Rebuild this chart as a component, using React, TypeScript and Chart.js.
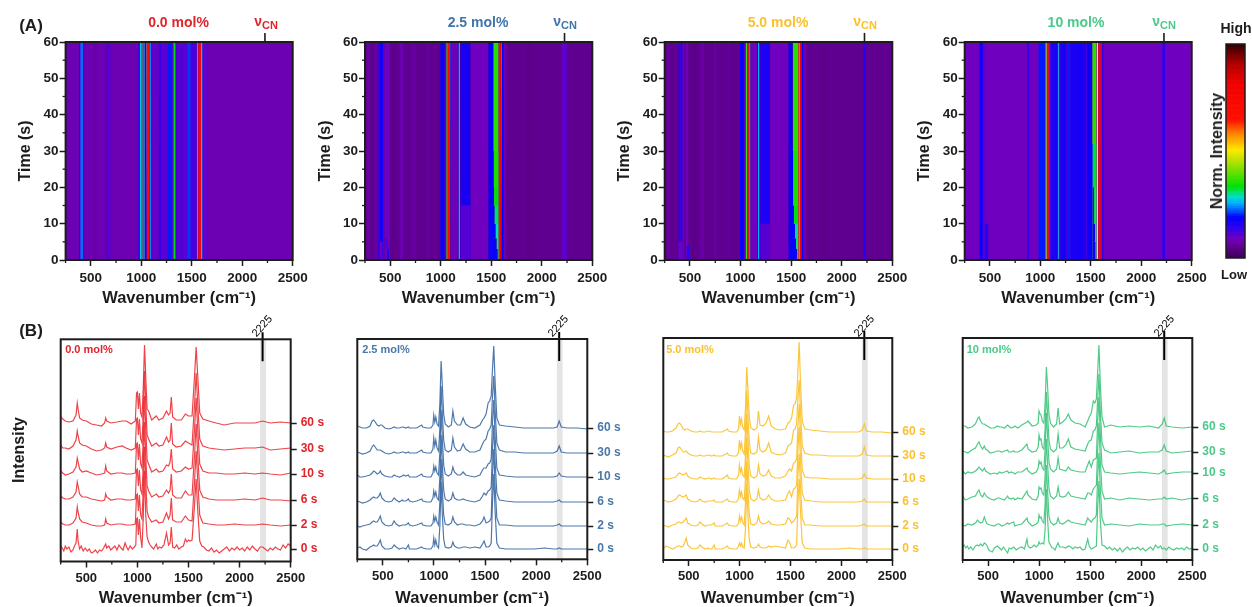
import React, { useEffect, useRef } from "react";
import { Chart, registerables } from "chart.js";

Chart.register(...registerables);

const FONT = '"Liberation Sans", Arial, sans-serif';
const INK = "#1c1c1c";
const TIMES = ["0 s", "2 s", "6 s", "10 s", "30 s", "60 s"];
const WN_MIN = 250;
const WN_MAX = 2500;
const CN_MARK = 2225;

const wnRed = [
  250,270,295,330,370,400,412,420,435,460,
  500,550,600,650,680,690,700,740,800,850,
  890,940,980,992,1000,1010,1020,1032,1045,1058,
  1070,1082,1095,1110,1140,1185,1210,1250,1285,1305,
  1320,1332,1345,1380,1430,1470,1500,1535,1560,1575,
  1590,1610,1640,1700,1770,1850,1950,2050,2150,2225,
  2300,2400,2500,
];
const wnRedNoisy = [
  250,265,280,295,310,330,350,370,385,400,
  412,420,435,450,470,490,510,530,550,570,
  590,610,630,650,670,680,690,700,720,740,
  760,780,800,820,840,860,880,895,910,930,
  950,970,985,992,1000,1010,1020,1032,1045,1058,
  1070,1082,1095,1110,1125,1140,1160,1185,1200,1215,
  1235,1260,1285,1305,1320,1332,1345,1365,1385,1405,
  1430,1450,1470,1485,1500,1515,1535,1560,1575,1590,
  1610,1630,1650,1675,1700,1725,1750,1775,1800,1825,
  1850,1875,1900,1925,1950,1975,2000,2025,2050,2075,
  2100,2125,2150,2175,2200,2225,2250,2275,2300,2325,
  2350,2375,2400,2425,2450,2475,2500,
];
const wnDoped = [
  250,275,300,340,375,395,410,425,445,462,
  475,490,520,560,590,610,630,660,690,700,
  725,750,760,790,830,880,890,930,970,990,
  998,1008,1018,1030,1045,1058,1070,1082,1095,1110,
  1140,1170,1185,1200,1230,1260,1285,1310,1350,1400,
  1450,1475,1490,1510,1530,1545,1560,1572,1585,1598,
  1615,1640,1700,1790,1880,1980,2080,2170,2205,2225,
  2245,2300,2400,2500,
];
const wnGreenNoisy = [
  250,265,280,295,310,330,350,375,395,410,
  425,445,462,475,490,505,520,540,560,590,
  610,630,650,670,690,705,725,750,775,800,
  830,855,880,890,910,930,950,970,990,998,
  1008,1018,1030,1045,1058,1070,1082,1095,1110,1125,
  1140,1155,1170,1185,1200,1230,1260,1285,1310,1330,
  1350,1375,1400,1425,1450,1475,1490,1510,1530,1545,
  1560,1572,1585,1598,1615,1640,1665,1690,1715,1740,
  1765,1790,1815,1840,1865,1890,1915,1940,1965,1990,
  2015,2040,2065,2090,2115,2140,2165,2190,2205,2225,
  2245,2270,2295,2320,2345,2370,2395,2420,2445,2470,
  2500,
];

const offsets00 = [0, 24, 49, 75, 100, 126];
const grids00 = [wnRedNoisy, wnRed, wnRed, wnRed, wnRed, wnRed];
const spectra00 = [
  [3,1,-2,3,0,2,-3,-1,3,6,20,8,0,3,-2,1,-2,0,-4,-3,-1,-4,-1,-2,1,3,5,1,3,-1,1,3,-1,4,1,-1,6,2,-1,3,0,2,4,30,31,14,30,12,1,32,78,34,12,7,4,2,0,5,0,2,1,4,16,4,6,22,2,1,4,0,2,3,10,7,9,8,9,45,70,40,8,3,2,-1,-2,1,-3,-1,-4,-2,0,2,-2,1,-1,2,-1,1,-2,2,-1,3,0,-2,2,2,0,-2,1,-1,2,0,-1,4,1,5,3],
  [3,1,0,0,2,7,18,13,6,3,2,0,-1,-1,0,6,2,0,1,1,0,0,1,30,31,14,30,10,6,36,78,44,14,8,3,5,2,3,12,6,10,27,5,3,3,9,5,4,45,74,45,10,2,1,0,0,1,0,0,1,0,-1,0],
  [4,2,1,1,3,8,18,14,6,3,3,1,0,-1,0,6,3,0,1,1,0,0,1,30,31,14,30,10,6,36,78,44,14,9,3,6,3,4,10,7,10,26,5,2,2,9,5,5,46,76,46,10,3,1,0,0,0,1,0,2,0,0,-1],
  [3,1,-1,0,2,7,16,12,5,2,3,1,-1,0,1,8,3,0,1,1,0,0,1,30,31,14,30,10,6,36,78,46,14,10,2,5,2,3,9,8,12,25,5,2,3,7,5,6,46,76,46,10,3,1,1,0,0,1,0,1,0,-1,1],
  [4,1,1,0,3,9,18,13,6,4,3,0,-2,-1,1,6,2,0,2,3,1,-1,1,30,31,14,30,10,6,36,78,46,14,10,3,6,3,4,12,7,9,26,5,2,3,8,6,4,46,76,46,10,3,1,0,-1,0,1,1,2,-1,0,1],
  [6,4,2,1,2,8,20,14,5,3,2,-1,-2,-3,0,5,2,0,1,2,2,-1,2,30,31,14,30,10,6,36,78,46,14,12,3,7,3,5,12,8,10,26,6,3,3,9,7,7,48,76,48,10,4,2,0,-2,0,0,0,2,0,1,0],
];

const offsets25 = [0, 23, 47, 72, 96, 121];
const grids25 = [wnDoped, wnDoped, wnDoped, wnDoped, wnDoped, wnDoped];
const spectra25 = [
  [1,2,0,-1,2,3,4,3,3,6,9,3,0,0,1,4,2,0,1,1,0,4,0,0,0,2,1,0,0,3,11,4,9,3,1,24,67,34,10,2,1,2,7,3,1,1,2,2,1,2,1,5,8,2,2,3,6,46,75,38,6,1,0,0,0,0,1,0,0,1,0,0,0,0],
  [0,-1,0,1,2,4,5,4,4,7,10,4,1,0,1,5,2,0,1,1,1,3,1,0,1,3,1,0,0,3,10,5,9,4,1,24,67,36,11,2,1,3,9,4,1,2,2,1,1,0,2,5,9,3,4,5,8,50,77,40,8,1,1,0,0,0,0,0,1,2,0,0,0,0],
  [1,0,-1,0,2,4,5,4,4,6,9,4,1,0,1,4,2,0,2,1,1,3,1,0,1,3,1,0,0,4,11,6,10,4,2,25,67,37,12,3,1,3,9,4,2,2,3,2,1,0,2,6,9,7,11,12,15,52,77,41,9,2,1,0,0,0,0,0,1,2,0,0,0,0],
  [2,0,0,1,2,4,6,5,3,4,6,3,1,0,0,2,1,0,1,2,1,2,0,0,0,3,1,0,0,4,11,6,10,4,2,25,67,38,12,3,1,3,10,5,2,2,5,2,1,0,2,7,9,9,13,14,18,54,77,42,9,2,1,0,0,0,0,0,1,4,1,0,0,0],
  [1,0,-1,0,2,6,8,6,3,3,3,2,0,-1,0,1,0,0,1,1,0,1,0,0,0,3,1,0,0,4,15,7,13,5,2,25,67,40,13,3,1,3,15,6,2,3,9,4,1,1,3,9,12,14,22,24,28,56,77,44,10,3,1,1,0,0,0,0,2,7,1,0,0,0],
  [2,1,0,0,2,7,8,6,3,2,3,3,0,-1,0,1,0,0,1,1,0,1,0,0,0,3,1,0,0,3,13,6,11,4,2,25,67,42,14,4,1,3,17,7,3,3,10,4,1,0,3,8,10,14,25,27,32,58,82,46,10,3,2,1,0,0,0,0,1,7,1,0,0,-1],
];

const offsets50 = [0, 23, 47, 70, 93, 117];
const grids50 = grids25;
const spectra50 = [
  [0,3,2,0,2,3,3,2,3,7,11,4,1,0,1,4,2,0,1,0,0,4,0,0,0,3,1,0,0,3,6,3,6,2,1,22,65,32,9,2,1,2,5,2,1,1,3,2,3,2,1,9,7,1,1,2,4,44,70,38,6,1,0,0,0,0,1,0,0,1,0,0,0,0],
  [1,0,-1,1,2,4,4,3,4,6,8,3,1,0,1,4,2,0,1,1,1,3,0,0,0,3,1,0,0,3,10,5,9,4,1,24,65,35,11,2,1,3,10,4,2,3,5,2,1,1,2,8,7,3,5,7,10,48,72,40,8,1,1,0,0,0,0,0,1,2,0,0,0,0],
  [2,1,0,1,3,6,7,6,5,6,7,3,1,0,1,3,1,0,1,1,1,2,0,0,0,3,1,0,0,4,12,6,10,4,2,24,65,37,12,3,1,3,12,4,2,3,7,3,1,1,2,9,11,5,13,14,17,50,75,42,9,2,1,0,0,0,0,0,1,3,0,0,0,0],
  [1,0,0,1,2,5,6,5,4,5,6,3,1,0,0,2,1,0,1,1,0,1,0,0,0,4,1,0,0,4,14,7,11,4,2,24,65,38,12,3,1,3,14,5,3,4,9,3,1,1,3,8,10,8,16,17,20,52,75,44,9,2,1,1,0,0,0,0,1,5,1,0,0,0],
  [1,0,-1,1,3,8,9,7,4,4,5,3,1,0,0,1,0,0,1,1,0,1,0,0,0,3,1,0,0,4,16,8,13,5,2,25,65,40,13,3,2,4,19,6,4,6,13,4,2,1,3,10,11,13,26,27,32,56,76,46,10,3,1,1,0,0,0,0,2,9,1,0,0,0],
  [1,0,0,1,4,8,9,7,3,2,3,3,1,0,0,1,0,0,1,1,0,0,0,0,0,3,1,0,0,3,16,8,13,5,2,25,65,42,14,4,2,4,21,7,6,9,16,6,3,2,3,9,10,14,27,28,34,60,90,50,11,3,2,1,0,0,0,0,2,8,1,0,0,-1],
];

const offsets10 = [0, 24, 50, 76, 97, 122];
const grids10 = [wnGreenNoisy, wnDoped, wnDoped, wnDoped, wnDoped, wnDoped];
const spectra10 = [
  [2,4,1,3,0,2,-1,3,4,3,5,3,6,5,3,-1,-2,-3,1,3,1,-1,2,-1,-4,1,0,2,-1,1,2,0,10,3,1,2,4,2,4,7,5,5,6,5,20,60,30,7,4,1,1,-1,3,6,2,2,1,3,2,0,2,1,2,-1,0,10,3,0,1,2,3,40,68,30,4,3,0,2,-1,1,-2,1,-3,0,2,-1,1,0,2,-1,1,-2,0,2,-1,4,1,3,0,1,-1,2,0,-1,1,0,1,-1,2,0,1],
  [0,-1,1,0,2,5,3,2,3,8,4,1,0,-1,1,1,-1,0,2,1,2,3,-1,0,1,7,3,-1,1,3,10,7,8,4,2,22,60,34,9,3,0,2,7,2,1,3,5,3,2,1,0,7,5,3,6,7,10,46,72,38,7,0,1,0,-1,1,0,0,1,1,-1,0,1,0],
  [3,-1,0,2,3,7,9,4,2,6,4,2,0,-1,1,1,0,-1,3,1,0,1,-1,1,0,8,4,0,-1,3,12,10,11,6,4,24,60,35,11,3,0,3,12,3,2,3,7,3,2,1,0,6,6,4,10,12,14,48,76,40,8,0,1,-1,1,0,-1,0,0,2,0,1,-1,1],
  [2,-1,1,0,2,4,6,4,2,5,2,1,-1,0,-1,1,0,1,2,0,1,0,-1,1,1,5,2,-1,1,5,12,9,11,5,3,24,60,36,11,4,1,4,15,4,3,2,6,3,2,1,1,8,12,6,13,14,15,50,76,40,8,1,0,-1,0,1,0,-1,1,3,-1,0,1,1],
  [1,0,-1,2,4,8,10,6,3,6,3,2,-1,0,1,1,0,1,2,0,0,1,0,0,2,8,3,0,1,5,17,12,13,5,3,24,60,38,12,3,0,3,18,4,4,7,13,5,3,2,1,8,11,12,21,22,26,52,78,42,9,2,-1,0,1,-1,0,0,2,7,1,-1,0,1],
  [1,1,-1,0,3,8,10,6,3,3,2,1,-1,-1,1,0,0,-1,2,1,-1,0,1,-1,2,5,6,1,2,4,16,13,12,6,4,24,60,40,13,4,0,3,19,3,5,8,13,7,4,3,0,6,10,14,26,24,28,54,82,44,10,0,2,0,1,0,1,-1,3,9,1,0,-1,0],
];

// [from wavenumber, to wavenumber, normalised intensity]
const heatBands00 = [
  [520,560,.07],[640,660,.07],[385,395,.17],[395,425,.23],[425,435,.14],[655,695,.115],
  [970,985,.15],[985,1000,.27],[1000,1012,.38],[1012,1022,.3],[1022,1034,.27],[1034,1050,.17],
  [1050,1056,.5],[1056,1082,.7],[1082,1086,.4],[1086,1098,.24],[1098,1108,.14],
  [1108,1170,.1],[1170,1200,.13],[1200,1265,.11],[1265,1296,.2],[1296,1312,.12],
  [1312,1320,.25],[1320,1340,.33],[1340,1350,.17],[1350,1455,.11],[1455,1490,.21],[1490,1550,.12],
  [1550,1558,.3],[1556,1564,.5],[1564,1594,.74],[1594,1604,.5],[1604,1614,.22],[1614,1650,.1],
];
const heatBands25 = [
  [270,300,.07],[335,380,.062],[380,395,.14],[395,430,.17],[430,445,.1],[445,497,.09],[520,560,.048],[590,630,.08],[700,760,.065],[860,890,.065],
  [985,995,.14],[995,1040,.18],[1040,1050,.2],[1050,1058,.36],[1058,1068,.48],[1068,1086,.7],[1086,1092,.4],[1092,1100,.22],[1100,1172,.085],
  [1168,1176,.17],[1176,1190,.27],[1190,1196,.17],[1196,1296,.165],[1296,1470,.09],[1470,1520,.18],
  [1520,1572,.36],[1572,1582,.55],[1582,1600,.8],[1600,1606,.5],[1606,1622,.19],[1622,1650,.08],
  [1850,1900,.048],[2195,2248,.105],
];
const heatBands50 = [
  [270,300,.065],[385,428,.14],[428,445,.08],[460,480,.09],[520,570,.048],[600,640,.07],[740,760,.07],[870,890,.065],
  [985,995,.14],[995,1035,.18],[1035,1050,.12],[1050,1066,.38],[1066,1082,.64],[1082,1090,.45],[1090,1098,.28],[1098,1167,.09],
  [1163,1172,.16],[1172,1186,.26],[1186,1194,.16],[1194,1292,.16],[1292,1472,.09],[1472,1516,.18],
  [1516,1570,.36],[1570,1588,.6],[1588,1606,.76],[1606,1620,.18],[1620,1650,.08],
  [1800,1860,.05],[2212,2238,.15],
];
const heatBands10 = [
  [395,430,.18],[430,450,.11],[868,892,.14],[980,1045,.2],[1045,1052,.25],
  [1052,1064,.46],[1064,1070,.55],[1070,1084,.66],[1084,1090,.4],[1090,1098,.2],[1098,1170,.16],
  [1170,1176,.2],[1176,1188,.27],[1188,1196,.18],[1196,1260,.165],[1260,1295,.2],[1295,1458,.165],[1458,1514,.18],
  [1514,1557,.36],[1557,1573,.5],[1573,1600,.76],[1600,1606,.3],[1606,1628,.14],
  [2208,2235,.155],
];

// [from time, to time, from wavenumber, to wavenumber, normalised intensity]
const heatCells25 = [
  [-2,3,1480,1565,.18],[-2,3,1565,1572,.3],[3,6,1480,1555,.18],[3,6,1555,1572,.28],[6,10,1490,1545,.18],[6,10,1545,1572,.29],
  [10,15,1490,1535,.18],[10,15,1535,1572,.31],[15,20,1490,1530,.18],[15,20,1530,1572,.33],[20,30,1490,1525,.18],[20,30,1525,1572,.35],
  [-2,3,465,490,.16],[3,6,450,480,.12],[-2,5,395,425,.09],[-2,15,1196,1296,.11],
];
const heatCells50 = [
  [-2,3,1480,1562,.18],[-2,3,1562,1570,.28],[3,6,1480,1550,.18],[3,6,1550,1570,.29],[6,10,1490,1538,.18],[6,10,1538,1570,.3],
  [10,15,1490,1528,.18],[10,15,1528,1570,.33],[15,30,1490,1522,.18],[15,30,1522,1570,.35],
  [-2,4,465,490,.16],[-2,5,385,428,.09],[-2,10,1194,1292,.11],
];
const heatCells10 = [
  [-2,5,1514,1548,.18],[-2,5,1548,1557,.27],[5,10,1514,1542,.18],[5,10,1542,1557,.28],[10,20,1514,1535,.2],[10,20,1535,1557,.3],
  [20,32,1514,1525,.21],[20,32,1525,1557,.32],[-2,10,450,485,.16],
];

const colormapStops: [number, number, number, number][] = [
  [0,60,0,88],[.054,96,0,144],[.09,112,0,192],[.13,60,0,232],[.19,0,0,255],[.257,0,180,255],[.288,0,224,192],
  [.334,0,224,0],[.443,168,224,0],[.505,255,232,0],[.583,255,128,0],[.645,255,16,0],[.817,240,0,0],[.91,176,0,0],[1,48,0,0],
];

function heatColor(level: number) {
  for (let i = 1; i < colormapStops.length; i++) {
    const a = colormapStops[i - 1];
    const b = colormapStops[i];
    if (level <= b[0]) {
      const f = (level - a[0]) / (b[0] - a[0]);
      return `rgb(${a[1] + (b[1] - a[1]) * f},${a[2] + (b[2] - a[2]) * f},${a[3] + (b[3] - a[3]) * f})`;
    }
  }
  return "rgb(48,0,0)";
}

function frame(width: number, minorX: number, minorY: number) {
  return {
    id: "frame",
    afterDatasetsDraw(chart: any) {
      const { ctx, chartArea: a, scales } = chart;
      ctx.save();
      ctx.strokeStyle = INK;
      ctx.lineWidth = width;
      ctx.strokeRect(a.left, a.top, a.right - a.left, a.bottom - a.top);
      ctx.lineWidth = 1.3;
      if (minorX && scales.x) {
        scales.x.ticks.forEach((t: any) => {
          if (t.value % 500 !== 0) {
            const p = scales.x.getPixelForValue(t.value);
            ctx.beginPath(); ctx.moveTo(p, a.bottom); ctx.lineTo(p, a.bottom + minorX); ctx.stroke();
          }
        });
      }
      if (minorY && scales.y) {
        scales.y.ticks.forEach((t: any) => {
          if (t.value % 10 !== 0) {
            const p = scales.y.getPixelForValue(t.value);
            ctx.beginPath(); ctx.moveTo(a.left, p); ctx.lineTo(a.left - minorY, p); ctx.stroke();
          }
        });
      }
      ctx.restore();
    },
  };
}

const tickFont = (size: number) => ({ family: FONT, size, weight: "bold" as const });

function xAxis(bottomRoom: number, size: number, pad: number) {
  return {
    type: "linear",
    min: WN_MIN,
    max: WN_MAX,
    border: { display: false },
    grid: {
      drawOnChartArea: false,
      tickLength: 6,
      tickWidth: 1.5,
      tickColor: (c: any) => (c.tick && c.tick.value % 500 === 0 ? INK : "transparent"),
    },
    ticks: {
      stepSize: 250,
      autoSkip: false,
      maxRotation: 0,
      padding: pad,
      color: INK,
      font: tickFont(size),
      callback: (v: number) => (v % 500 === 0 ? String(v) : ""),
    },
    title: {
      display: true,
      text: "Wavenumber (cm\u207B\u00B9)",
      color: INK,
      font: { family: FONT, size: 16.5, weight: "bold" },
      padding: { top: 0, bottom: 4 },
    },
    afterFit: (s: any) => { s.height = bottomRoom; },
  };
}

function rect(x0: number, x1: number, t0: number, t1: number, color: string) {
  return {
    data: [{ x: x0, y: t0 }, { x: x1, y: t0 }],
    fill: { value: t1 },
    backgroundColor: color,
    borderColor: "transparent",
    borderWidth: 0,
    pointRadius: 0,
  };
}

const HEAT_TOP = 42;
const HEAT_BOTTOM = 260;
const BLEED = 6;

function HeatPanel({ l, r, bands, cells, base }: any) {
  const heatRef = useRef<HTMLCanvasElement>(null);
  const axisRef = useRef<HTMLCanvasElement>(null);
  const left = Math.floor(l) - 57;
  const width = Math.ceil(r) + 24 - left;
  const height = 312;
  const hLeft = Math.floor(l) - BLEED;
  const hRight = Math.ceil(r) + BLEED;
  const hTop = HEAT_TOP - BLEED;
  const hBottom = HEAT_BOTTOM + BLEED;
  useEffect(() => {
    const px = (r - l) / (WN_MAX - WN_MIN);
    const py = (HEAT_BOTTOM - HEAT_TOP) / 60;
    const xMin = WN_MIN - (l - hLeft) / px;
    const xMax = WN_MAX + (hRight - r) / px;
    const yMin = -BLEED / py;
    const yMax = 60 + BLEED / py;
    const layers = [
      rect(xMin, xMax, yMin, yMax, heatColor(base)),
      ...bands.map((b: number[]) => rect(b[0], b[1], yMin, yMax, heatColor(b[2]))),
      ...cells.map((c: number[]) => rect(c[2], c[3], c[0], c[1], heatColor(c[4]))),
    ].reverse();
    const heat = new Chart(heatRef.current!, {
      type: "line",
      data: { datasets: layers as any },
      options: {
        responsive: false,
        animation: false,
        events: [],
        layout: { padding: 0 },
        plugins: { legend: { display: false }, tooltip: { enabled: false } },
        scales: {
          x: { type: "linear", min: xMin, max: xMax, display: false },
          y: { min: yMin, max: yMax, display: false },
        },
      } as any,
    });
    const axes = new Chart(axisRef.current!, {
      type: "line",
      data: {
        datasets: [
          {
            data: [{ x: CN_MARK, y: 60 }, { x: CN_MARK, y: 62.5 }],
            borderColor: INK, borderWidth: 1.6, pointRadius: 0, clip: false, fill: false,
          },
        ] as any,
      },
      options: {
        responsive: false,
        animation: false,
        events: [],
        layout: { padding: { top: HEAT_TOP, right: width - (r - left), left: 0, bottom: 0 } },
        plugins: { legend: { display: false }, tooltip: { enabled: false } },
        scales: {
          x: xAxis(height - HEAT_BOTTOM, 13.5, 4) as any,
          y: {
            min: 0,
            max: 60,
            border: { display: false },
            grid: {
              drawOnChartArea: false,
              tickLength: 6,
              tickWidth: 1.5,
              tickColor: (c: any) => (c.tick && c.tick.value % 10 === 0 ? INK : "transparent"),
            },
            ticks: {
              stepSize: 5,
              autoSkip: false,
              padding: 1,
              color: INK,
              font: tickFont(13.5),
              callback: (v: number) => (v % 10 === 0 ? String(v) : ""),
            },
            title: { display: true, text: "Time (s)", color: INK, font: { family: FONT, size: 16, weight: "bold" }, padding: { top: 8, bottom: 8 } },
            afterFit: (s: any) => { s.width = l - left; },
          } as any,
        },
      } as any,
      plugins: [frame(2, 3, 3) as any],
    });
    return () => { heat.destroy(); axes.destroy(); };
  }, []);
  return (
    <>
      <div style={{ position: "absolute", left: l, top: HEAT_TOP, width: r - l, height: HEAT_BOTTOM - HEAT_TOP, overflow: "hidden" }}>
        <canvas
          ref={heatRef}
          width={hRight - hLeft}
          height={hBottom - hTop}
          style={{ position: "absolute", left: hLeft - l, top: hTop - HEAT_TOP, width: hRight - hLeft, height: hBottom - hTop, filter: "blur(0.75px)" }}
        />
      </div>
      <canvas ref={axisRef} width={width} height={height} style={{ position: "absolute", left, top: 0, width, height }} />
    </>
  );
}

function LinePanel({ l, r, t, b, zeroAt, grids, spectra, offsets, lineColor, textColor }: any) {
  const ref = useRef<HTMLCanvasElement>(null);
  const top = 300;
  const left = Math.floor(l) - 10;
  const rightRoom = 48;
  const width = Math.ceil(r) + rightRoom - left;
  const height = 312;
  const yMax = zeroAt - t;
  const yMin = zeroAt - b;
  useEffect(() => {
    const lines = spectra.map((vals: number[], i: number) => ({
      data: grids[i].map((x: number, k: number) => ({ x, y: offsets[i] + vals[k] })),
      borderColor: lineColor,
      borderWidth: 1.2,
      pointRadius: 0,
      tension: 0,
      fill: false,
    }));
    const datasets = [
      { data: [{ x: CN_MARK, y: yMax + 7 }, { x: CN_MARK, y: yMax - 22 }], borderColor: "#000", borderWidth: 2, pointRadius: 0, clip: false, fill: false },
      ...lines,
      rect(2200, 2260, yMax, yMin, "#e4e4e4"),
    ];
    const chart = new Chart(ref.current!, {
      type: "line",
      data: { datasets: datasets as any },
      options: {
        responsive: false,
        animation: false,
        events: [],
        layout: { padding: { top: t - top, left: l - left, right: 0, bottom: 0 } },
        plugins: { legend: { display: false }, tooltip: { enabled: false } },
        scales: {
          x: xAxis(height - (b - top), 13, 3) as any,
          y: {
            position: "right",
            min: yMin,
            max: yMax,
            border: { display: false },
            grid: { drawOnChartArea: false, tickLength: 6, tickWidth: 1.5, tickColor: INK },
            afterBuildTicks: (s: any) => { s.ticks = offsets.map((value: number) => ({ value })); },
            ticks: {
              autoSkip: false,
              padding: 4,
              color: textColor,
              font: tickFont(12),
              callback: (_v: number, i: number) => TIMES[i],
            },
            afterFit: (s: any) => { s.width = width - (r - left); },
          } as any,
        },
      } as any,
      plugins: [frame(2, 3, 0) as any],
    });
    return () => chart.destroy();
  }, []);
  return <canvas ref={ref} width={width} height={height} style={{ position: "absolute", left, top, width, height }} />;
}

function ColorBar() {
  const ref = useRef<HTMLCanvasElement>(null);
  useEffect(() => {
    const rows = Array.from({ length: 128 }, (_, i) => rect(0, 1, i / 128, (i + 1.4) / 128, heatColor((i + 0.5) / 128))).reverse();
    const chart = new Chart(ref.current!, {
      type: "line",
      data: { datasets: rows as any },
      options: {
        responsive: false,
        animation: false,
        events: [],
        layout: { padding: 2 },
        plugins: { legend: { display: false }, tooltip: { enabled: false } },
        scales: { x: { type: "linear", min: 0, max: 1, display: false }, y: { min: 0, max: 1, display: false } },
      } as any,
      plugins: [frame(1.5, 0, 0) as any],
    });
    return () => chart.destroy();
  }, []);
  return <canvas ref={ref} width={23} height={218} style={{ position: "absolute", left: 1224, top: 42, width: 23, height: 218 }} />;
}

function Text({ x, y, size = 14, color = INK, bold = true, rotate = 0, children }: any) {
  return (
    <span
      style={{
        position: "absolute", left: x, top: y, whiteSpace: "nowrap", fontSize: size, lineHeight: 1,
        color, fontWeight: bold ? 700 : 400,
        transform: `translate(-50%,-50%) rotate(${rotate}deg)`,
      }}
    >
      {children}
    </span>
  );
}

function CN({ x, color }: any) {
  return (
    <Text x={x} y={22} size={14} color={color}>
      {"\u03BD"}<sub style={{ fontSize: 11, verticalAlign: -3 }}>CN</sub>
    </Text>
  );
}

export default function App() {
  const RED = "#e0242a";
  const BLUE = "#3f74ad";
  const YEL = "#fbc12e";
  const GRN = "#4cc98a";
  return (
    <div
      style={{
        position: "absolute", left: 0, top: 0, width: 1252, height: 607, overflow: "hidden",
        background: "#fff", fontFamily: FONT, filter: "blur(0.5px)",
      }}
    >
      <HeatPanel l={65.6} r={292.7} bands={heatBands00} cells={[]} base={.08} />
      <HeatPanel l={365} r={592.3} bands={heatBands25} cells={heatCells25} base={.055} />
      <HeatPanel l={664.7} r={892.3} bands={heatBands50} cells={heatCells50} base={.055} />
      <HeatPanel l={964.7} r={1191.7} bands={heatBands10} cells={heatCells10} base={.09} />
      <ColorBar />
      <LinePanel l={60.7} r={290.7} t={339.3} b={561.5} zeroAt={549} grids={grids00} spectra={spectra00} offsets={offsets00} lineColor="rgba(232,20,28,0.8)" textColor={RED} />
      <LinePanel l={357.3} r={587.3} t={339} b={559.3} zeroAt={549} grids={grids25} spectra={spectra25} offsets={offsets25} lineColor="rgba(47,96,158,0.85)" textColor="#4a78aa" />
      <LinePanel l={663.3} r={892.3} t={338} b={560} zeroAt={549} grids={grids50} spectra={spectra50} offsets={offsets50} lineColor="rgba(252,192,38,0.9)" textColor={YEL} />
      <LinePanel l={962.7} r={1192.3} t={338} b={560} zeroAt={549} grids={grids10} spectra={spectra10} offsets={offsets10} lineColor="rgba(60,196,122,0.9)" textColor={GRN} />

      <Text x={31} y={25} size={17}>(A)</Text>
      <Text x={31} y={330} size={17}>(B)</Text>
      <Text x={178.5} y={22} color={RED}>0.0 mol%</Text>
      <Text x={478} y={22} color={BLUE}>2.5 mol%</Text>
      <Text x={778} y={22} color={YEL}>5.0 mol%</Text>
      <Text x={1076} y={22} color={GRN}>10 mol%</Text>
      <CN x={266} color={RED} />
      <CN x={565} color={BLUE} />
      <CN x={865} color={YEL} />
      <CN x={1164} color={GRN} />
      <Text x={1236} y={28} size={14}>High</Text>
      <Text x={1234} y={274} size={13}>Low</Text>
      <Text x={1217} y={151} size={16} rotate={-90}>Norm. Intensity</Text>
      <Text x={19} y={450} size={16} rotate={-90}>Intensity</Text>
      <Text x={89} y={349} size={11} color={RED}>0.0 mol%</Text>
      <Text x={386} y={349} size={11} color="#4a78aa">2.5 mol%</Text>
      <Text x={690} y={349} size={11} color={YEL}>5.0 mol%</Text>
      <Text x={989} y={349} size={11} color={GRN}>10 mol%</Text>
      <Text x={262} y={326} size={11} bold={false} color="#000" rotate={-48}>2225</Text>
      <Text x={558} y={326} size={11} bold={false} color="#000" rotate={-48}>2225</Text>
      <Text x={864} y={326} size={11} bold={false} color="#000" rotate={-48}>2225</Text>
      <Text x={1164} y={326} size={11} bold={false} color="#000" rotate={-48}>2225</Text>
    </div>
  );
}
